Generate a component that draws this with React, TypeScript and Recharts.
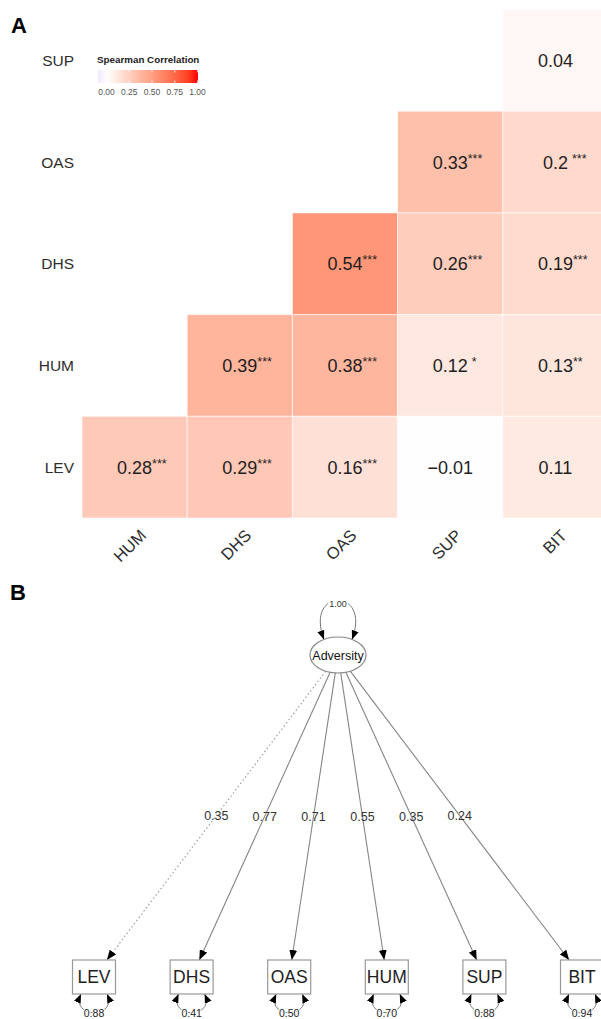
import React from 'react';
import { ScatterChart, Scatter, XAxis, YAxis, ReferenceLine, Legend } from 'recharts';

const FONT = '"Liberation Sans", Arial, Helvetica, sans-serif';

// ---- panel A: Spearman correlation matrix ----
const COL_VARS = ['HUM', 'DHS', 'OAS', 'SUP', 'BIT'];
const ROW_VARS = ['LEV', 'HUM', 'DHS', 'OAS', 'SUP'];
const CELL_ROW = ['SUP', 'OAS', 'OAS', 'DHS', 'DHS', 'DHS', 'HUM', 'HUM', 'HUM', 'HUM', 'LEV', 'LEV', 'LEV', 'LEV', 'LEV'];
const CELL_COL = ['BIT', 'SUP', 'BIT', 'OAS', 'SUP', 'BIT', 'DHS', 'OAS', 'SUP', 'BIT', 'HUM', 'DHS', 'OAS', 'SUP', 'BIT'];
const CELL_RHO = [0.04, 0.33, 0.2, 0.54, 0.26, 0.19, 0.39, 0.38, 0.12, 0.13, 0.28, 0.29, 0.16, -0.01, 0.11];
const CELL_SIG = ['', '***', '***', '***', '***', '***', '***', '***', '*', '**', '***', '***', '***', '', ''];
const LEGEND_TICKS = [0, 0.25, 0.5, 0.75, 1];

// ---- panel B: one-factor CFA ----
const LATENT = 'Adversity';
const LATENT_VAR = 1.0;
const INDICATORS = ['LEV', 'DHS', 'OAS', 'HUM', 'SUP', 'BIT'];
const LOADINGS = [0.35, 0.77, 0.71, 0.55, 0.35, 0.24];
const RESIDUALS = [0.88, 0.41, 0.5, 0.7, 0.88, 0.94];
const FIXED = ['LEV'];

const heatData = CELL_RHO.map((rho, i) => ({
  x: COL_VARS.indexOf(CELL_COL[i]) + 1,
  y: ROW_VARS.indexOf(CELL_ROW[i]) + 1,
  rho,
  sig: CELL_SIG[i],
}));

const indicatorData = INDICATORS.map((name, i) => ({ x: i, y: 0, name, resid: RESIDUALS[i] }));
const latentData = [{ x: (INDICATORS.length - 1) / 2, y: 1, name: LATENT }];

// colour scale: white -> red (positive), white -> blue (negative), mixed in Lab like ggplot
const lin = (c: number) => { c /= 255; return c <= 0.04045 ? c / 12.92 : Math.pow((c + 0.055) / 1.055, 2.4); };
const gam = (c: number) => { const v = c <= 0.0031308 ? 12.92 * c : 1.055 * Math.pow(c, 1 / 2.4) - 0.055; return Math.round(Math.max(0, Math.min(1, v)) * 255); };
const toLab = ([r, g, b]: number[]) => {
  const R = lin(r), G = lin(g), B = lin(b);
  const X = (0.4124 * R + 0.3576 * G + 0.1805 * B) / 0.95047;
  const Y = 0.2126 * R + 0.7152 * G + 0.0722 * B;
  const Z = (0.0193 * R + 0.1192 * G + 0.9505 * B) / 1.08883;
  const f = (t: number) => (t > 0.008856 ? Math.cbrt(t) : 7.787 * t + 16 / 116);
  return [116 * f(Y) - 16, 500 * (f(X) - f(Y)), 200 * (f(Y) - f(Z))];
};
const fromLab = ([L, a, b]: number[]) => {
  const fy = (L + 16) / 116, fx = fy + a / 500, fz = fy - b / 200;
  const inv = (t: number) => (t ** 3 > 0.008856 ? t ** 3 : (t - 16 / 116) / 7.787);
  const X = inv(fx) * 0.95047, Y = inv(fy), Z = inv(fz) * 1.08883;
  const R = 3.2406 * X - 1.5372 * Y - 0.4986 * Z;
  const G = -0.9689 * X + 1.8758 * Y + 0.0415 * Z;
  const B = 0.0557 * X - 0.204 * Y + 1.057 * Z;
  return `rgb(${gam(R)},${gam(G)},${gam(B)})`;
};
const WHITE = toLab([255, 255, 255]);
const RED = toLab([255, 0, 0]);
const BLUE = toLab([0, 0, 255]);
const corrColour = (v: number) => {
  const end = v >= 0 ? RED : BLUE;
  const t = Math.min(1, Math.abs(v));
  return fromLab(WHITE.map((w, k) => w + (end[k] - w) * t));
};

const fmt = (v: number) => String(v).replace('-', '\u2212');
const CHAR_W: Record<string, number> = { '.': 0.278, '\u2212': 0.584 };
const textW = (s: string, fs: number) => s.split('').reduce((a, c) => a + (CHAR_W[c] ?? 0.556), 0) * fs;

const CELL_W = 105.2;
const CELL_H = 101.7;
const VAL_FS = 18;

const CellShape = (props: any) => {
  const { cx, cy, payload } = props;
  const label = fmt(payload.rho);
  const half = textW(label, VAL_FS) / 2;
  const pad = payload.sig === '*' || label.length < 4 ? 4 : 0;
  return (
    <g>
      <rect x={cx - CELL_W / 2} y={cy - CELL_H / 2} width={CELL_W} height={CELL_H}
        fill={corrColour(payload.rho)} stroke="#ffffff" strokeOpacity={0.6} strokeWidth={1} />
      <text x={cx} y={cy + 6.5} textAnchor="middle" fontSize={VAL_FS} fill="#1e1e1e" fontFamily={FONT}>{label}</text>
      {payload.sig ? (
        <text x={cx + half + pad} y={cy + 0.5} fontSize={12.5} fill="#1e1e1e" fontFamily={FONT}>{payload.sig}</text>
      ) : null}
    </g>
  );
};

const XTick = (props: any) => {
  const { x, y, payload } = props;
  const tx = x + 12.5, ty = y + 10.5;
  return (
    <text x={tx} y={ty} transform={`rotate(-45 ${tx} ${ty})`} textAnchor="end" fontSize={16.5} fill="#2e2e2e" fontFamily={FONT}>
      {COL_VARS[payload.value - 1]}
    </text>
  );
};

const LEG_MIN = -0.093;
const LEG_MAX = 1.005;
const ColourBar = () => {
  const stops = Array.from({ length: 12 }, (_, i) => i / 11);
  const px = (v: number) => 8 + ((v - LEG_MIN) / (LEG_MAX - LEG_MIN)) * 100;
  return (
    <svg width={130} height={55} style={{ overflow: 'visible' }}>
      <defs>
        <linearGradient id="corrGrad" x1="0" x2="1" y1="0" y2="0">
          {stops.map((s) => (
            <stop key={s} offset={s} stopColor={corrColour(LEG_MIN + s * (LEG_MAX - LEG_MIN))} />
          ))}
        </linearGradient>
      </defs>
      <text x={7} y={15} fontSize={9.8} fontWeight="bold" fill="#222" fontFamily={FONT}>Spearman Correlation</text>
      <rect x={8} y={22} width={100} height={13} fill="url(#corrGrad)" />
      {LEGEND_TICKS.map((t) => (
        <g key={t}>
          <line x1={px(t)} x2={px(t)} y1={22} y2={24.5} stroke="#fff" strokeWidth={0.8} />
          <line x1={px(t)} x2={px(t)} y1={32.5} y2={35} stroke="#fff" strokeWidth={0.8} />
          <text x={px(t)} y={46.5} textAnchor="middle" fontSize={8.5} fill="#555" fontFamily={FONT}>{t.toFixed(2)}</text>
        </g>
      ))}
    </svg>
  );
};

// ---- panel B shapes ----
const ELL_RX = 28;
const ELL_RY = 18;
const BOX_HW = 21.5;
const BOX_HH = 17;

const LatentShape = (props: any) => {
  const { cx, cy, payload } = props;
  return (
    <g>
      <path d={`M${cx - 14},${cy - 15.6} C${cx - 34},${cy - 68} ${cx + 34},${cy - 68} ${cx + 14},${cy - 15.6}`}
        fill="none" stroke="#777" strokeWidth={1} markerStart="url(#loopArrow)" markerEnd="url(#loopArrow)" />
      <rect x={cx - 10} y={cy - 56} width={20} height={9} fill="#fff" />
      <text x={cx} y={cy - 48} textAnchor="middle" fontSize={9} fill="#333" fontFamily={FONT}>{LATENT_VAR.toFixed(2)}</text>
      <ellipse cx={cx} cy={cy} rx={ELL_RX} ry={ELL_RY} fill="#fff" stroke="#888" strokeWidth={1.2} />
      <text x={cx} y={cy + 4.5} textAnchor="middle" fontSize={12.5} fill="#111" fontFamily={FONT}>{payload.name}</text>
    </g>
  );
};

const IndicatorShape = (props: any) => {
  const { cx, cy, payload } = props;
  return (
    <g>
      <path d={`M${cx - 13},${cy + BOX_HH} C${cx - 24},${cy + 42} ${cx + 24},${cy + 42} ${cx + 13},${cy + BOX_HH}`}
        fill="none" stroke="#777" strokeWidth={1} markerStart="url(#loopArrow)" markerEnd="url(#loopArrow)" />
      <rect x={cx - BOX_HW} y={cy - BOX_HH} width={BOX_HW * 2} height={BOX_HH * 2} fill="#fff" stroke="#999" strokeWidth={1.2} />
      <text x={cx} y={cy + 6.3} textAnchor="middle" fontSize={17.5} fill="#1e1e1e" fontFamily={FONT}>{payload.name}</text>
      <text x={cx} y={cy + 40} textAnchor="middle" fontSize={10.5} fill="#222" fontFamily={FONT}
        stroke="#fff" strokeWidth={2} paintOrder="stroke">{payload.resid.toFixed(2)}</text>
    </g>
  );
};

const edgeShape = (i: number) => (p: any) => {
  const { x1, y1, x2, y2 } = p;
  const dx = x2 - x1, dy = y2 - y1;
  const ts = 1 / Math.sqrt((dx / ELL_RX) ** 2 + (dy / ELL_RY) ** 2);
  const sx = x1 + dx * ts, sy = y1 + dy * ts;
  const te = Math.min(BOX_HW / Math.max(Math.abs(dx), 1e-6), BOX_HH / Math.max(Math.abs(dy), 1e-6));
  const ex = x2 - dx * te, ey = y2 - dy * te;
  const dashed = FIXED.includes(INDICATORS[i]);
  return (
    <g>
      <line x1={sx} y1={sy} x2={ex} y2={ey} stroke={dashed ? '#999' : '#858585'} strokeWidth={1.1}
        strokeDasharray={dashed ? '1.5 2.5' : undefined} markerEnd="url(#edgeArrow)" />
      <text x={(sx + ex) / 2} y={(sy + ey) / 2 + 4.5} textAnchor="middle" fontSize={12.5} fill="#333" fontFamily={FONT}>
        {LOADINGS[i].toFixed(2)}
      </text>
    </g>
  );
};

export default function App() {
  return (
    <div style={{ position: 'fixed', left: 0, top: 0, width: 601, height: 1019, overflow: 'hidden', background: '#fff', fontFamily: FONT }}>
      <div style={{ position: 'absolute', left: 0, top: 0 }}>
        <ScatterChart width={620} height={580} margin={{ top: 9.5, right: 12, bottom: 0, left: 0 }}>
          <XAxis type="number" dataKey="x" domain={[0.5, 5.5]} ticks={[1, 2, 3, 4, 5]} interval={0}
            height={62} axisLine={false} tickLine={false} tick={<XTick />} />
          <YAxis type="number" dataKey="y" domain={[0.5, 5.5]} ticks={[1, 2, 3, 4, 5]} interval={0}
            width={82} axisLine={false} tickLine={false}
            tickFormatter={(v: number) => ROW_VARS[v - 1]}
            tick={{ fontSize: 15.5, fill: '#2e2e2e', fontFamily: FONT }} />
          <Legend verticalAlign="middle" align="center" layout="horizontal"
            wrapperStyle={{ left: 90, top: 48, width: 130, height: 55 }} content={() => <ColourBar />} />
          <Scatter data={heatData} shape={<CellShape />} isAnimationActive={false} />
        </ScatterChart>
      </div>
      <div style={{ position: 'absolute', left: 0, top: 560 }}>
        <ScatterChart width={601} height={459} margin={{ top: 95, right: 19, bottom: 42, left: 94 }}>
          <XAxis type="number" dataKey="x" domain={[0, INDICATORS.length - 1]} hide />
          <YAxis type="number" dataKey="y" domain={[0, 1]} hide />
          {INDICATORS.map((name, i) => (
            <ReferenceLine key={name} ifOverflow="visible"
              segment={[{ x: latentData[0].x, y: 1 }, { x: i, y: 0 }]}
              shape={edgeShape(i)} />
          ))}
          <Scatter data={indicatorData} shape={<IndicatorShape />} isAnimationActive={false} />
          <Scatter data={latentData} shape={<LatentShape />} isAnimationActive={false} />
        </ScatterChart>
      </div>
      <svg width={601} height={1019} style={{ position: 'absolute', left: 0, top: 0, pointerEvents: 'none' }}>
        <defs>
          <marker id="edgeArrow" viewBox="0 0 10 8" refX="10" refY="4" markerWidth="10" markerHeight="8"
            markerUnits="userSpaceOnUse" orient="auto">
            <path d="M0,0 L10,4 L0,8 z" fill="#000" />
          </marker>
          <marker id="loopArrow" viewBox="0 0 10 8" refX="10" refY="4" markerWidth="9" markerHeight="7.5"
            markerUnits="userSpaceOnUse" orient="auto-start-reverse">
            <path d="M0,0 L10,4 L0,8 z" fill="#000" />
          </marker>
        </defs>
        <text x={11} y={33} fontSize={22} fontWeight="bold" fill="#000" fontFamily={FONT}>A</text>
        <text x={10} y={600} fontSize={22} fontWeight="bold" fill="#000" fontFamily={FONT}>B</text>
      </svg>
    </div>
  );
}
